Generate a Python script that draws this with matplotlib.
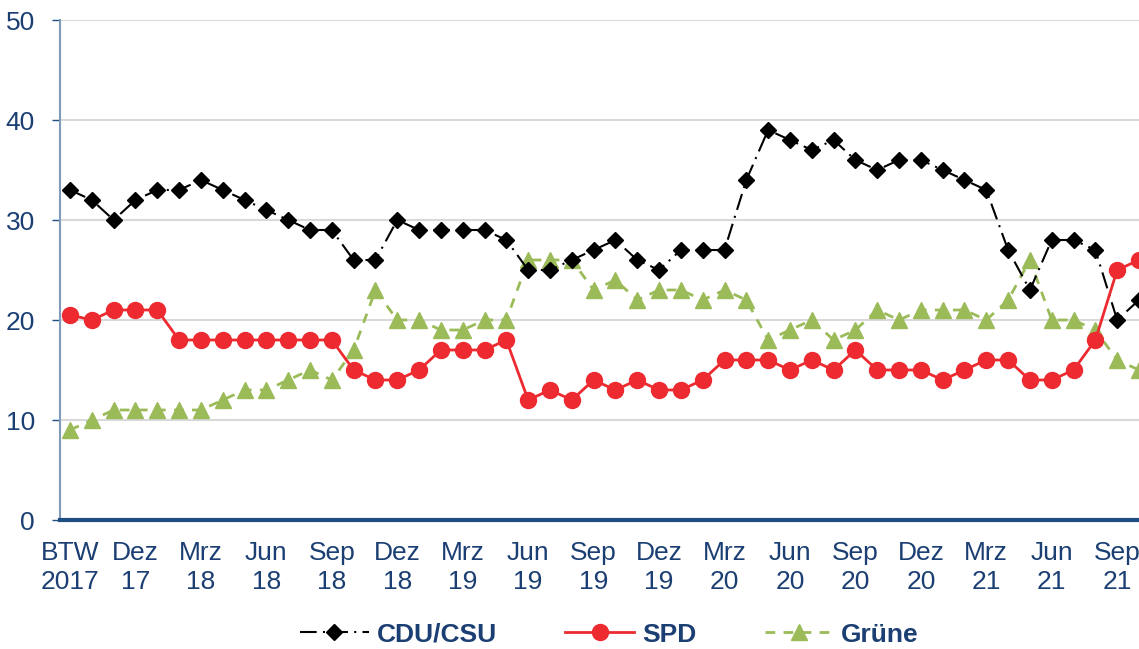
import numpy as np
import matplotlib
matplotlib.use("Agg")
import matplotlib.pyplot as plt

# poll values (percent), one per month from the 2017 federal election on
cdu = [33, 32, 30, 32, 33, 33, 34, 33, 32, 31, 30, 29, 29, 26, 26, 30, 29, 29, 29, 29,
       28, 25, 25, 26, 27, 28, 26, 25, 27, 27, 27, 34, 39, 38, 37, 38, 36, 35, 36, 36,
       35, 34, 33, 27, 23, 28, 28, 27, 20, 22]
spd = [20.5, 20, 21, 21, 21, 18, 18, 18, 18, 18, 18, 18, 18, 15, 14, 14, 15, 17, 17, 17,
       18, 12, 13, 12, 14, 13, 14, 13, 13, 14, 16, 16, 16, 15, 16, 15, 17, 15, 15, 15,
       14, 15, 16, 16, 14, 14, 15, 18, 25, 26]
gruene = [9, 10, 11, 11, 11, 11, 11, 12, 13, 13, 14, 15, 14, 17, 23, 20, 20, 19, 19, 20,
          20, 26, 26, 26, 23, 24, 22, 23, 23, 22, 23, 22, 18, 19, 20, 18, 19, 21, 20, 21,
          21, 21, 20, 22, 26, 20, 20, 19, 16, 15]
tick_labels = ["BTW\n2017", "Dez\n17", "Mrz\n18", "Jun\n18", "Sep\n18", "Dez\n18",
               "Mrz\n19", "Jun\n19", "Sep\n19", "Dez\n19", "Mrz\n20", "Jun\n20",
               "Sep\n20", "Dez\n20", "Mrz\n21", "Jun\n21", "Sep\n21"]

navy = "#1b3f72"
plt.rcParams["font.family"] = ["Liberation Sans", "DejaVu Sans"]

fig = plt.figure(figsize=(11.39, 6.49), dpi=100)
ax = fig.add_axes([60 / 1139, 129 / 649, 1079 / 1139, 500 / 649])

x = np.arange(len(cdu))
ax.plot(x, cdu, color="black", lw=1.5, ls=(0, (8, 3, 1, 3)),
        marker="D", ms=8.5, label="CDU/CSU", zorder=3)
ax.plot(x, spd, color="#ec2a2f", lw=2, ls="-",
        marker="o", ms=11.5, label="SPD", zorder=4)
ax.plot(x, gruene, color="#9bbb59", lw=2, ls=(0, (3.5, 3)),
        marker="^", ms=11, label="Grüne", zorder=2)

ax.set_xlim(-0.46, 49.0)
ax.set_ylim(0, 50)
ax.set_yticks(range(0, 51, 10))
ax.set_xticks(np.arange(0, 49, 3))
ax.set_xticklabels(tick_labels, linespacing=1.25)
ax.grid(axis="y", color="#d9d9d9", lw=1.5)
ax.set_axisbelow(True)

for s in ["top", "right"]:
    ax.spines[s].set_visible(False)
ax.spines["left"].set_color("#7f9bb8")
ax.spines["left"].set_linewidth(1.5)
ax.spines["bottom"].set_color("#1f4e83")
ax.spines["bottom"].set_linewidth(3)

ax.tick_params(axis="y", colors=navy, labelsize=19, length=6, width=1, pad=12)
ax.tick_params(axis="y", color="#1f4e83")
ax.tick_params(axis="x", colors=navy, labelsize=19, length=0, pad=15)

fig.legend(loc="center", bbox_to_anchor=(0.535, 0.022), ncol=3, frameon=False,
           handlelength=2.6, handletextpad=0.3, columnspacing=2.6,
           prop={"size": 19, "weight": "bold"}, labelcolor=navy)

fig.savefig("out.png", dpi=100)
